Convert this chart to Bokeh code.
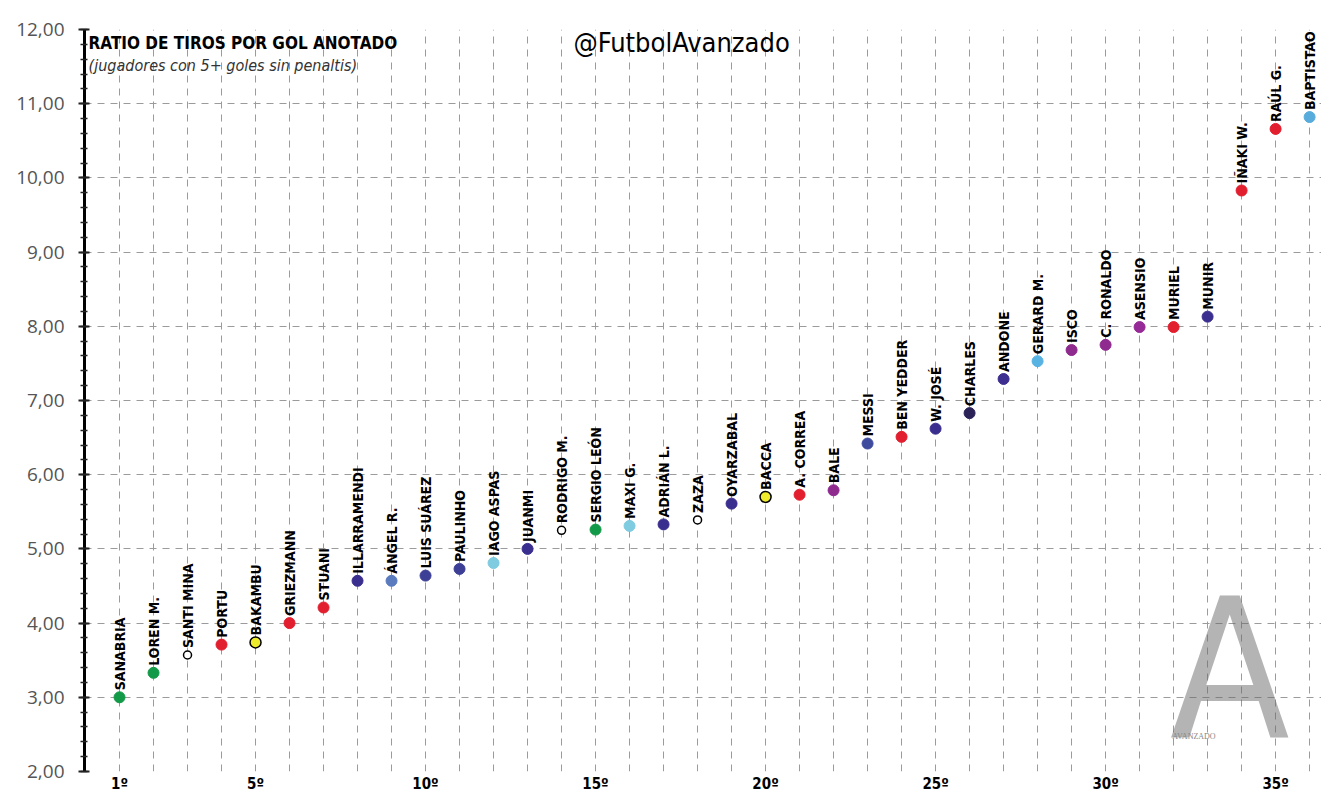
import math

from bokeh.plotting import figure
from bokeh.core.properties import value
from bokeh.models import ColumnDataSource, FixedTicker, CustomJSTickFormatter, Label, LabelSet
from bokeh.embed import file_html
from bokeh.resources import INLINE

# players ordered by shots needed per goal (non-penalty, 5+ goals)
players = ["SANABRIA", "LOREN M.", "SANTI MINA", "PORTU", "BAKAMBU", "GRIEZMANN", "STUANI",
           "ILLARRAMENDI", "ÁNGEL R.", "LUIS SUÁREZ", "PAULINHO", "IAGO ASPAS", "JUANMI",
           "RODRIGO M.", "SERGIO LEÓN", "MAXI G.", "ADRIÁN L.", "ZAZA", "OYARZABAL", "BACCA",
           "A. CORREA", "BALE", "MESSI", "BEN YEDDER", "W. JOSÉ", "CHARLES", "ANDONE",
           "GERARD M.", "ISCO", "C. RONALDO", "ASENSIO", "MURIEL", "MUNIR", "IÑAKI W.",
           "RAÚL G.", "BAPTISTAO"]
ratio = [3.00, 3.33, 3.57, 3.71, 3.74, 4.00, 4.21, 4.57, 4.57, 4.64, 4.73, 4.81, 5.00,
         5.25, 5.26, 5.31, 5.33, 5.39, 5.61, 5.70, 5.73, 5.79, 6.42, 6.51, 6.62, 6.83,
         7.29, 7.53, 7.68, 7.75, 7.99, 7.99, 8.13, 9.83, 10.66, 10.82]
dot_fill = ["#139a48", "#139a48", "white", "#e21f2f", "#eeea2c", "#e21f2f", "#e21f2f",
            "#3a2e8e", "#5b7bbf", "#3d3f96", "#3d3f96", "#7fcbe0", "#3a2e8e",
            "white", "#139a48", "#7fcbe0", "#3a2e8e", "white", "#3a2e8e", "#eeea2c",
            "#e21f2f", "#8f2a8f", "#3f4c9e", "#e21f2f", "#3a2e8e", "#2b2358", "#3d2e90",
            "#58b3e2", "#8f2a8f", "#8f2a8f", "#962a96", "#e21f2f", "#3a2e8e", "#e21f2f",
            "#e21f2f", "#58acdc"]
open_dot = ["SANTI MINA", "RODRIGO M.", "ZAZA"]
outlined_dot = ["BAKAMBU", "BACCA"]

ranks = list(range(1, len(players) + 1))
x_ticks = [1, 5, 10, 15, 20, 25, 30, 35]
x_tick_labels = ["1º", "5º", "10º", "15º", "20º", "25º", "30º", "35º"]
y_ticks = [2, 3, 4, 5, 6, 7, 8, 9, 10, 11, 12]

line_col = ["black" if (n in open_dot or n in outlined_dot) else c for n, c in zip(players, dot_fill)]
sizes = [8 if n in open_dot else 11 for n in players]
lw = [1.5 if (n in open_dot or n in outlined_dot) else 1 for n in players]

src = ColumnDataSource(data=dict(rank=ranks, ratio=ratio, player=players,
                                 fill=dot_fill, line=line_col, size=sizes, lw=lw))

NARROW = "DejaVu Sans Condensed"

p = figure(width=1321, height=796, x_range=(-0.03, 36.35), y_range=(2, 12),
           output_backend="svg", toolbar_location=None,
           min_border_left=84, min_border_right=0, min_border_top=29, min_border_bottom=25)
p.outline_line_color = None
p.background_fill_color = "white"

# y axis
p.yaxis.ticker = FixedTicker(ticks=y_ticks, minor_ticks=[2 + 0.2 * i for i in range(51)])
p.yaxis.formatter = CustomJSTickFormatter(code="return tick.toFixed(2).replace('.', ',');")
p.yaxis.axis_line_width = 3
p.yaxis.axis_line_color = "black"
p.yaxis.major_tick_in = 5
p.yaxis.major_tick_out = 6
p.yaxis.minor_tick_in = 3
p.yaxis.minor_tick_out = 4
p.yaxis.major_tick_line_width = 2
p.yaxis.minor_tick_line_width = 1.5
p.yaxis.major_tick_line_color = "#222222"
p.yaxis.minor_tick_line_color = "#222222"
p.yaxis.major_label_standoff = 14
p.yaxis.major_label_text_font = "Open Sans"
p.yaxis.major_label_text_font_size = "19px"
p.yaxis.major_label_text_color = "#555555"

# x axis
p.xaxis.ticker = FixedTicker(ticks=x_ticks)
p.xaxis.major_label_overrides = dict(zip(x_ticks, x_tick_labels))
p.xaxis.axis_line_color = None
p.xaxis.major_tick_line_color = None
p.xaxis.minor_tick_line_color = None
p.xaxis.major_tick_out = 0
p.xaxis.major_tick_in = 0
p.xaxis.major_label_standoff = 3
p.xaxis.major_label_text_font = NARROW
p.xaxis.major_label_text_font_style = "bold"
p.xaxis.major_label_text_font_size = "15px"
p.xaxis.major_label_text_color = "black"

# dashed grid
p.xgrid.ticker = FixedTicker(ticks=ranks)
p.ygrid.ticker = FixedTicker(ticks=y_ticks)
for g in (p.xgrid, p.ygrid):
    g.grid_line_color = "#9b9b9b"
    g.grid_line_dash = "7 6"
    g.grid_line_width = 1

# watermark logo
p.add_layout(Label(x=33.65, y=3.37, text="A", text_align="center", text_baseline="middle",
                   text_font=NARROW, text_font_size="195px",
                   text_color="#6a6a6a", text_alpha=0.5))
p.add_layout(Label(x=32.6, y=2.47, text="AVANZADO", text_align="center", text_baseline="middle",
                   text_font="Liberation Serif", text_font_size="8px", text_color="#888888"))

p.scatter("rank", "ratio", source=src, size="size", fill_color="fill", line_color="line",
          line_width="lw")

labels = LabelSet(x="rank", y="ratio", text="player", source=src, angle=math.pi / 2,
                  text_align="left", text_baseline="middle", y_offset=7,
                  text_font=value(NARROW), text_font_style="bold", text_font_size="14px",
                  text_color="black")
p.add_layout(labels)

p.add_layout(Label(x=0.09, y=11.95, text="RATIO DE TIROS POR GOL ANOTADO", text_baseline="top",
                   text_font=NARROW, text_font_style="bold", text_font_size="17px",
                   text_color="black"))
p.add_layout(Label(x=0.09, y=11.64, text="(jugadores con 5+ goles sin penaltis)",
                   text_baseline="top", text_font=NARROW, text_font_style="italic",
                   text_font_size="16px", text_color="#333333"))
p.add_layout(Label(x=17.53, y=11.82, text="@FutbolAvanzado", text_align="center",
                   text_baseline="middle", text_font=NARROW, text_font_size="27px",
                   text_color="black"))

open("out.html", "w").write(file_html(p, INLINE))
